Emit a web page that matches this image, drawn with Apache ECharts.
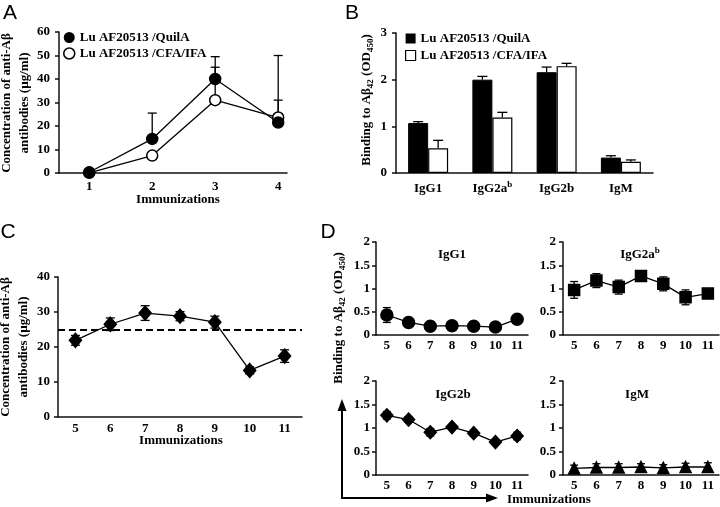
<!DOCTYPE html>
<html><head><meta charset="utf-8">
<script src="https://cdn.jsdelivr.net/npm/echarts@6/dist/echarts.min.js"></script>
<style>html,body{margin:0;padding:0;background:#fff}#c{width:720px;height:507px}</style>
</head><body><div id="c"></div>
<script>
// ---- Panel A ----
const aImmunizations = [1, 2, 3, 4];
const aQuilA = [0.3, 14.5, 40, 21.5];
const aQuilAErrHigh = [null, 25.5, 49.5, 31];
const aCFA = [0.1, 7.4, 31, 23.6];
const aCFAErrHigh = [null, null, 45, 50];
const aYTicks = [0, 10, 20, 30, 40, 50, 60];
// ---- Panel B ----
const bIsotypes = ['IgG1', 'IgG2a', 'IgG2b', 'IgM'];
const bQuilA = [1.07, 2.0, 2.16, 0.33];
const bQuilAErr = [0.03, 0.07, 0.11, 0.04];
const bCFA = [0.53, 1.19, 2.29, 0.24];
const bCFAErr = [0.17, 0.11, 0.06, 0.04];
// ---- Panel C ----
const cImmunizations = ['5', '6', '7', '8', '9', '10', '11'];
const cConc = [21.9, 26.5, 29.7, 28.8, 27.1, 13.3, 17.4];
const cErr = [1.4, 1.8, 2.1, 1.3, 1.7, 1.0, 1.8];
const cReference = 25;
// ---- Panel D ----
const dImmunizations = ['5', '6', '7', '8', '9', '10', '11'];
const dIgG1 = [0.43, 0.27, 0.19, 0.2, 0.19, 0.17, 0.34];
const dIgG1Err = [0.16, 0.05, 0.03, 0.06, 0.03, 0.03, 0.04];
const dIgG2a = [0.97, 1.17, 1.03, 1.27, 1.1, 0.81, 0.89];
const dIgG2aErr = [0.18, 0.15, 0.15, 0.04, 0.15, 0.16, 0.04];
const dIgG2b = [1.27, 1.18, 0.91, 1.02, 0.89, 0.7, 0.83];
const dIgG2bErr = [0.08, 0.06, 0.08, 0.05, 0.06, 0.04, 0.08];
const dIgM = [0.14, 0.16, 0.16, 0.17, 0.15, 0.17, 0.17];
const dIgMErr = [0.07, 0.08, 0.08, 0.07, 0.07, 0.08, 0.09];

const SERIF = 'Liberation Serif';
const BLACK = '#000';
const lblStyle = { color: BLACK, fontFamily: SERIF, fontWeight: 'bold', fontSize: 13 };
const axLine = { show: true, lineStyle: { color: '#111', width: 1.5 } };

function yAx(gi, max, interval, margin) {
  return { type: 'value', gridIndex: gi, min: 0, max: max, interval: interval,
    axisLine: axLine, axisTick: { show: true, length: 4, lineStyle: { color: '#111', width: 1.5 } },
    splitLine: { show: false }, axisLabel: Object.assign({ margin: margin }, lblStyle) };
}
function xCat(gi, data, margin, extra) {
  return Object.assign({ type: 'category', gridIndex: gi, data: data, boundaryGap: true,
    axisLine: axLine, axisTick: { show: false }, splitLine: { show: false },
    axisLabel: Object.assign({ margin: margin, interval: 0 }, lblStyle) }, extra || {});
}
function errRender(offsetPx, capW, upOnly) {
  return function (params, api) {
    const x = api.value(0), lo = api.value(1), hi = api.value(2);
    const pHi = api.coord([x, hi]);
    const pLo = api.coord([x, lo]);
    const cx = pHi[0] + offsetPx;
    const st = { stroke: BLACK, lineWidth: 1.3 };
    const ch = [
      { type: 'line', shape: { x1: cx, y1: pLo[1], x2: cx, y2: pHi[1] }, style: st },
      { type: 'line', shape: { x1: cx - capW / 2, y1: pHi[1], x2: cx + capW / 2, y2: pHi[1] }, style: st }
    ];
    if (!upOnly) ch.push({ type: 'line', shape: { x1: cx - capW / 2, y1: pLo[1], x2: cx + capW / 2, y2: pLo[1] }, style: st });
    return { type: 'group', children: ch };
  };
}
function errSeries(xi, yi, data, offsetPx, capW, upOnly) {
  return { type: 'custom', xAxisIndex: xi, yAxisIndex: yi, data: data, z: 1, silent: true,
    encode: { x: 0, y: [1, 2] }, renderItem: errRender(offsetPx, capW, upOnly) };
}
function symErr(vals, errs) { return vals.map((v, i) => [i, v - errs[i], v + errs[i]]); }
function lineSeries(xi, yi, data, symbol, size, fill) {
  return { type: 'line', xAxisIndex: xi, yAxisIndex: yi, data: data, symbol: symbol, symbolSize: size,
    z: 3, silent: true, lineStyle: { color: BLACK, width: 1.3 },
    itemStyle: { color: fill || BLACK, borderColor: BLACK, borderWidth: 1.5 } };
}

const nameQ = 'Lu AF20513 /QuilA';
const nameC = 'Lu AF20513 /CFA/IFA';

const aQuilAPts = aImmunizations.map((x, i) => [x, aQuilA[i]]);
const aCFAPts = aImmunizations.map((x, i) => [x, aCFA[i]]);
const aQuilAErrPts = aImmunizations.map((x, i) => aQuilAErrHigh[i] == null ? null : [x, aQuilA[i], aQuilAErrHigh[i]]).filter(Boolean);
const aCFAErrPts = aImmunizations.map((x, i) => aCFAErrHigh[i] == null ? null : [x, aCFA[i], aCFAErrHigh[i]]).filter(Boolean);

const richText = {
  n: { fontFamily: SERIF, fontWeight: 'bold', fontSize: 13, lineHeight: 18, verticalAlign: 'middle', fill: BLACK, color: BLACK },
  sub: { fontFamily: SERIF, fontWeight: 'bold', fontSize: 9, lineHeight: 9, padding: [7, 0, 0, 0], verticalAlign: 'middle', fill: BLACK, color: BLACK },
  sup: { fontFamily: SERIF, fontWeight: 'bold', fontSize: 9, lineHeight: 9, verticalAlign: 'top', fill: BLACK, color: BLACK }
};
const bindingLabel = '{n|Binding to A\u03b2}{sub|42}{n| (OD}{sub|450}{n|)}';

function gText(x, y, text, opts) {
  return Object.assign({ type: 'text', x: x, y: y, silent: true,
    style: Object.assign({ text: text, fill: BLACK, font: 'bold 13px "Liberation Serif"', align: 'center', verticalAlign: 'middle' }, (opts && opts.style) || {}) },
    opts && opts.rotation ? { rotation: opts.rotation } : {});
}
function letter(x, y, t) {
  return { type: 'text', x: x, y: y, silent: true, style: { text: t, fill: BLACK, font: '21px "Liberation Sans"', align: 'center', verticalAlign: 'middle' } };
}

const option = {
  animation: false,
  backgroundColor: '#fff',
  grid: [
    { left: 59, top: 32, width: 228, height: 141 },
    { left: 396, top: 33, width: 257, height: 140 },
    { left: 58, top: 277, width: 244, height: 140 },
    { left: 376, top: 242, width: 152, height: 93 },
    { left: 563, top: 242, width: 156, height: 93 },
    { left: 376, top: 381, width: 152, height: 94 },
    { left: 563, top: 381, width: 156, height: 94 }
  ],
  xAxis: [
    { type: 'value', gridIndex: 0, min: 0.52, max: 4.14, axisLine: axLine, axisTick: { show: false }, splitLine: { show: false },
      axisLabel: Object.assign({ margin: 7, customValues: aImmunizations }, lblStyle) },
    xCat(1, bIsotypes, 7, { axisLabel: Object.assign({ margin: 7, interval: 0, rich: richText,
      formatter: v => v === 'IgG2a' ? '{n|IgG2a}{sup|b}' : '{n|' + v + '}' }, lblStyle) }),
    xCat(2, cImmunizations, 5),
    xCat(3, dImmunizations, 4),
    xCat(4, dImmunizations, 4),
    xCat(5, dImmunizations, 4),
    xCat(6, dImmunizations, 4)
  ],
  yAxis: [
    Object.assign(yAx(0, 60, 10, 9), { axisLabel: Object.assign({ margin: 9, customValues: aYTicks }, lblStyle) }),
    yAx(1, 3, 1, 9),
    yAx(2, 40, 10, 8),
    yAx(3, 2, 0.5, 6),
    yAx(4, 2, 0.5, 7),
    yAx(5, 2, 0.5, 6),
    yAx(6, 2, 0.5, 7)
  ],
  legend: [
    { left: 63, top: 31, orient: 'vertical', padding: 0, itemWidth: 11, itemHeight: 11, itemGap: 3,
      selectedMode: false, textStyle: { color: BLACK, fontFamily: SERIF, fontWeight: 'bold', fontSize: 13 },
      data: [ { name: nameQ, icon: 'circle', itemStyle: { color: BLACK, borderWidth: 0 } },
              { name: nameC, icon: 'circle', itemStyle: { color: '#fff', borderColor: BLACK, borderWidth: 1.5 } } ] },
    { left: 405, top: 32, orient: 'vertical', padding: 0, itemWidth: 10, itemHeight: 10, itemGap: 4,
      selectedMode: false, textStyle: { color: BLACK, fontFamily: SERIF, fontWeight: 'bold', fontSize: 13 },
      data: [ { name: nameQ, icon: 'rect', itemStyle: { color: BLACK, borderWidth: 0 } },
              { name: nameC, icon: 'rect', itemStyle: { color: '#fff', borderColor: BLACK, borderWidth: 1.2 } } ] }
  ],
  series: [
    // Panel A
    errSeries(0, 0, aQuilAErrPts, 0, 9, true),
    errSeries(0, 0, aCFAErrPts, 0, 9, true),
    Object.assign(lineSeries(0, 0, aCFAPts, 'circle', 11, '#fff'), { name: nameC }),
    Object.assign(lineSeries(0, 0, aQuilAPts, 'circle', 11), { name: nameQ }),
    // Panel B
    { type: 'bar', name: nameQ, xAxisIndex: 1, yAxisIndex: 1, data: bQuilA, barWidth: 20, barGap: '0%', z: 2, silent: true,
      itemStyle: { color: BLACK, borderColor: BLACK, borderWidth: 1 } },
    { type: 'bar', name: nameC, xAxisIndex: 1, yAxisIndex: 1, data: bCFA, barWidth: 20, barGap: '0%', z: 2, silent: true,
      itemStyle: { color: '#fff', borderColor: BLACK, borderWidth: 1.2 } },
    Object.assign(errSeries(1, 1, bQuilA.map((v, i) => [i, v, v + bQuilAErr[i]]), -10, 10, true), { z: 4 }),
    Object.assign(errSeries(1, 1, bCFA.map((v, i) => [i, v, v + bCFAErr[i]]), 10, 10, true), { z: 4 }),
    // Panel C
    errSeries(2, 2, symErr(cConc, cErr), 0, 9, false),
    Object.assign(lineSeries(2, 2, cConc, 'diamond', [12, 14]), {
      markLine: { silent: true, symbol: 'none', label: { show: false },
        lineStyle: { color: BLACK, width: 2, type: [7, 4] }, data: [{ yAxis: cReference }] } }),
    // Panel D
    errSeries(3, 3, symErr(dIgG1, dIgG1Err), 0, 8, false),
    lineSeries(3, 3, dIgG1, 'circle', 12),
    errSeries(4, 4, symErr(dIgG2a, dIgG2aErr), 0, 8, false),
    lineSeries(4, 4, dIgG2a, 'rect', 11),
    errSeries(5, 5, symErr(dIgG2b, dIgG2bErr), 0, 8, false),
    lineSeries(5, 5, dIgG2b, 'diamond', [12, 13]),
    errSeries(6, 6, symErr(dIgM, dIgMErr), 0, 8, false),
    lineSeries(6, 6, dIgM, 'triangle', 11)
  ],
  graphic: [
    letter(10, 13, 'A'), letter(352, 13, 'B'), letter(8, 232, 'C'), letter(328, 232, 'D'),
    gText(16, 103, 'Concentration of anti-A\u03b2\nantibodies (\u00b5g/ml)', { rotation: Math.PI / 2, style: { lineHeight: 18 } }),
    gText(15, 347, 'Concentration of anti-A\u03b2\nantibodies (\u00b5g/ml)', { rotation: Math.PI / 2, style: { lineHeight: 18 } }),
    gText(367, 100, bindingLabel, { rotation: Math.PI / 2, style: { rich: richText } }),
    gText(339, 318, bindingLabel, { rotation: Math.PI / 2, style: { rich: richText } }),
    gText(178, 200, 'Immunizations'),
    gText(181, 441, 'Immunizations'),
    gText(549, 500, 'Immunizations'),
    gText(452, 255, 'IgG1'),
    gText(640, 255, '{n|IgG2a}{sup|b}', { style: { rich: richText } }),
    gText(453, 395, 'IgG2b'),
    gText(637, 395, 'IgM'),
    // axes arrows in panel D
    { type: 'polyline', silent: true, shape: { points: [[342, 409], [342, 498], [488, 498]] }, style: { stroke: BLACK, lineWidth: 2, fill: null } },
    { type: 'polygon', silent: true, shape: { points: [[342, 399], [337.5, 411], [346.5, 411]] }, style: { fill: BLACK } },
    { type: 'polygon', silent: true, shape: { points: [[498, 498], [486, 493.5], [486, 502.5]] }, style: { fill: BLACK } }
  ]
};
echarts.init(document.getElementById('c'), null, { renderer: 'canvas' }).setOption(option);
</script></body></html>
